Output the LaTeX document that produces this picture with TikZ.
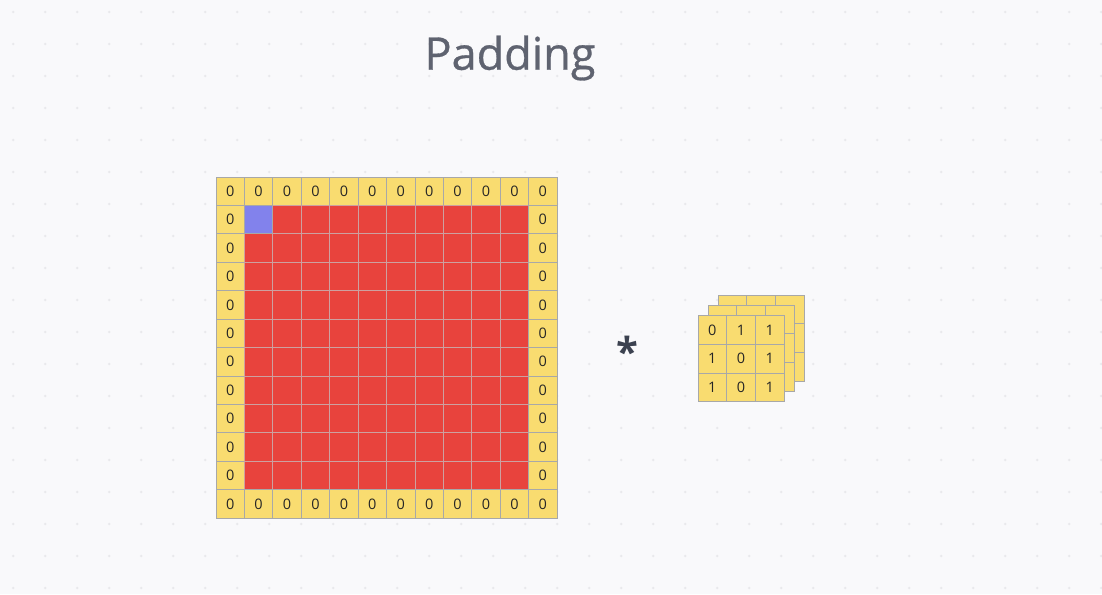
\documentclass[tikz,border=0pt]{standalone}
\usepackage{fontspec}
\setmainfont{Open Sans}
\newfontfamily\titlefont[FakeBold=0.7]{Open Sans}
\definecolor{bgc}{HTML}{F9F9FB}
\definecolor{dotc}{HTML}{E9E9EC}
\definecolor{padc}{HTML}{F9DC70}
\definecolor{redc}{HTML}{E8433D}
\definecolor{bluec}{HTML}{8282EC}
\definecolor{linec}{HTML}{A8A8A8}
\definecolor{redline}{HTML}{CDA0A0}
\definecolor{titlec}{HTML}{5F6370}
\definecolor{starc}{HTML}{3C4250}
\begin{document}
\begin{tikzpicture}[x=1pt,y=-1pt,
  cellbox/.style={draw=linec,line width=0.8pt,minimum size=28.42pt,inner sep=0pt,anchor=center,font=\fontsize{14.5}{14.5}\selectfont,text=black!85},
  padcell/.style={cellbox,fill=padc},
  redcell/.style={cellbox,fill=redc,draw=redline},
  bluecell/.style={cellbox,fill=bluec,draw=linec},
  kcell/.style={draw=linec,line width=0.8pt,fill=padc,minimum size=28.7pt,inner sep=0pt,anchor=center,font=\fontsize{14.5}{14.5}\selectfont,text=black!85}]
\fill[bgc] (0,0) rectangle (1102,594);
\useasboundingbox (0,0) rectangle (1102,594);
\foreach \i in {0,...,34}{
  \foreach \j in {0,...,18}{
    \fill[dotc] (13.3+32*\i,12+32*\j) circle (1.4pt);
  }
}
\node[text=titlec,font=\titlefont\fontsize{45}{45}\selectfont] (title) at (510,58) {Padding};
% main grid
\foreach \r in {0,...,11}{
  \foreach \c in {0,...,11}{
    \pgfmathtruncatemacro{\edge}{(\r==0)||(\r==11)||(\c==0)||(\c==11)}
    \ifnum\edge=1
      \node[padcell] (g-\r-\c) at (216+28.42*\c+14.21,177+28.42*\r+14.21) {0};
    \else
      \node[redcell] (g-\r-\c) at (216+28.42*\c+14.21,177+28.42*\r+14.21) {};
    \fi
  }
}
\node[bluecell] (blue) at (g-1-1) {};
% asterisk
\node[text=starc,font=\fontsize{40}{40}\selectfont\bfseries] (star) at (627,351) {*};
% kernel layers
\foreach \r in {0,1,2}{
  \foreach \c in {0,1,2}{
    \node[kcell] (kb-\r-\c) at (718+28.7*\c+14.35,295+28.7*\r+14.35) {};
  }
}
\foreach \r in {0,1,2}{
  \foreach \c in {0,1,2}{
    \node[kcell] (km-\r-\c) at (708+28.7*\c+14.35,305+28.7*\r+14.35) {};
  }
}
\foreach \r/\c/\v in {0/0/0,0/1/1,0/2/1,1/0/1,1/1/0,1/2/1,2/0/1,2/1/0,2/2/1}{
  \node[kcell] (kf-\r-\c) at (698+28.7*\c+14.35,315.5+28.7*\r+14.35) {\v};
}
\end{tikzpicture}
\end{document}
